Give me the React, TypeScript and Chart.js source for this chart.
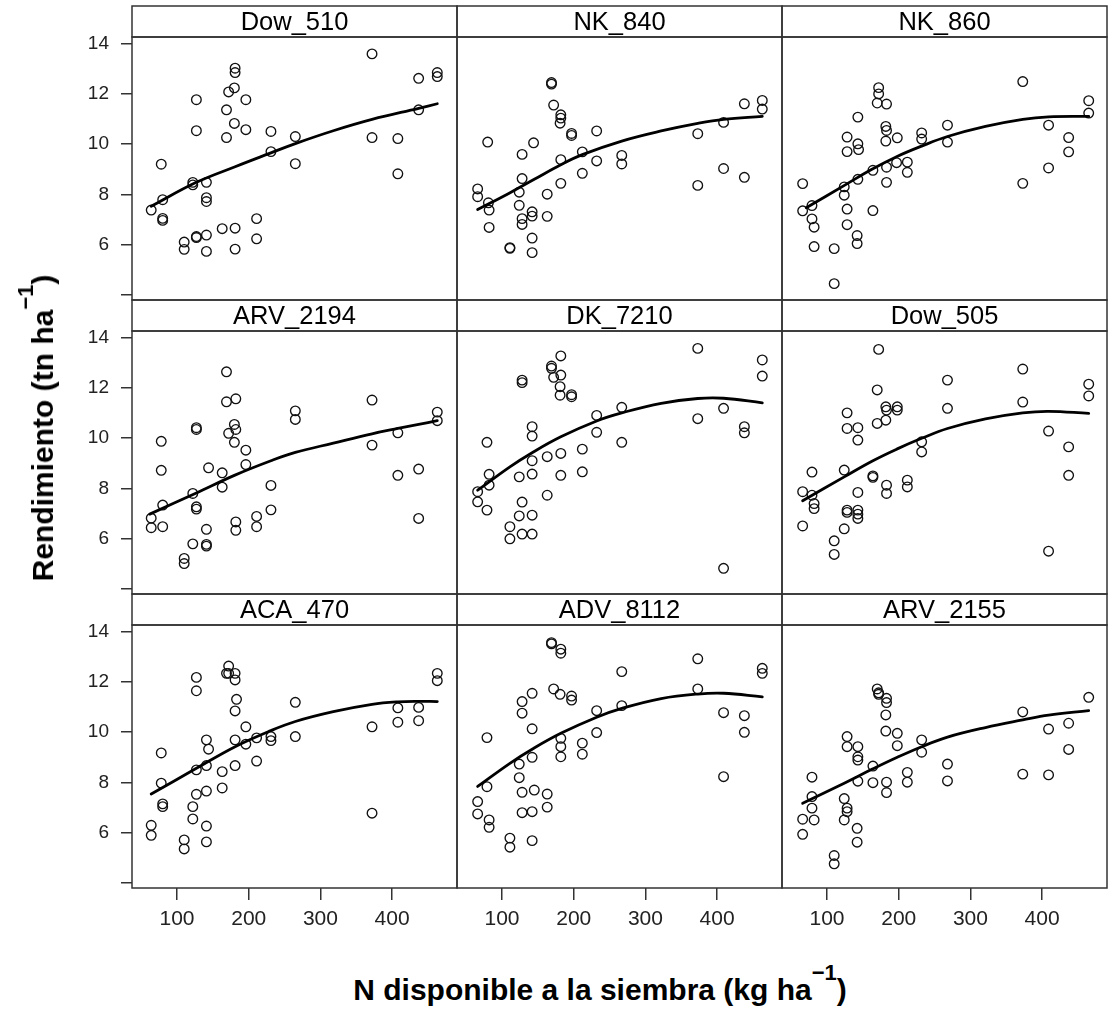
import React, { useEffect, useRef } from "react";
import { Chart, registerables } from "chart.js";

Chart.register(...registerables);

// ---------- categories / ticks ----------
const panelNames = ["Dow_510", "NK_840", "NK_860", "ARV_2194", "DK_7210", "Dow_505", "ACA_470", "ADV_8112", "ARV_2155"];
const xTickValues = [100, 200, 300, 400];
const yTickValues = [4, 6, 8, 10, 12, 14];
const yTickLabels = ["", "6", "8", "10", "12", "14"];
const xTitle = "N disponible a la siembra (kg ha";
const yTitle = "Rendimiento (tn ha";

// ---------- data (N available kg/ha, yield tn/ha) ----------
const dow510N = [64, 78, 80, 80, 80, 110, 110, 122, 122, 127, 127, 127, 127, 141, 141, 141, 141, 141, 163, 169, 169, 172, 180, 180, 181, 181, 181, 181, 196, 196, 211, 211, 231, 231, 265, 265, 372, 372, 408, 408, 437, 437, 463, 463];
const dow510Y = [7.38, 9.2, 7.79, 7.05, 6.97, 6.11, 5.82, 8.48, 8.38, 11.76, 10.53, 6.33, 6.29, 8.48, 7.87, 7.72, 6.39, 5.74, 6.64, 11.36, 10.26, 12.07, 12.23, 10.82, 13.01, 12.84, 6.66, 5.83, 11.76, 10.57, 7.04, 6.24, 10.5, 9.7, 10.3, 9.22, 13.58, 10.26, 10.22, 8.82, 12.61, 11.36, 12.84, 12.68];
const dow510FitN = [64, 127, 181, 231, 265, 318, 372, 437, 463];
const dow510FitY = [7.53, 8.48, 9.1, 9.65, 10.02, 10.53, 10.98, 11.42, 11.6];

const nk840N = [66, 66, 80, 81, 82, 82, 111, 111, 124, 124, 128, 128, 128, 128, 142, 142, 142, 142, 144, 163, 163, 169, 169, 172, 182, 182, 181, 182, 182, 197, 197, 212, 212, 232, 232, 267, 267, 373, 373, 409, 409, 438, 438, 463, 463];
const nk840Y = [8.22, 7.91, 10.08, 7.67, 7.38, 6.69, 5.89, 5.86, 8.09, 7.57, 9.59, 8.63, 7.04, 6.81, 7.31, 7.14, 6.27, 5.69, 10.05, 8.01, 7.13, 12.44, 12.38, 11.55, 11.16, 11.03, 10.83, 9.38, 8.44, 10.42, 10.34, 9.69, 8.84, 10.52, 9.33, 9.55, 9.21, 10.41, 8.36, 10.86, 9.03, 11.6, 8.68, 11.73, 11.39];
const nk840FitN = [66, 110, 145, 182, 212, 267, 322, 373, 409, 463];
const nk840FitY = [7.4, 8.05, 8.6, 9.18, 9.58, 10.12, 10.52, 10.82, 10.98, 11.1];

const nk860N = [66, 66, 79, 79, 82, 82, 110, 110, 124, 124, 128, 128, 128, 128, 143, 143, 144, 143, 142, 142, 164, 164, 172, 172, 170, 183, 182, 183, 182, 183, 183, 198, 197, 212, 212, 232, 232, 268, 268, 373, 373, 409, 409, 437, 437, 465, 465];
const nk860Y = [8.43, 7.35, 7.56, 7.03, 6.7, 5.93, 5.85, 4.46, 8.3, 7.97, 10.28, 9.7, 7.42, 6.8, 11.07, 10.01, 9.78, 8.6, 6.37, 6.05, 8.96, 7.36, 12.24, 11.99, 11.63, 11.59, 10.7, 10.54, 10.12, 9.08, 8.48, 10.25, 9.26, 9.28, 8.88, 10.44, 10.2, 10.75, 10.08, 12.48, 8.44, 10.75, 9.05, 10.26, 9.69, 11.72, 11.23];
const nk860FitN = [71, 126, 162, 197, 232, 268, 321, 373, 409, 465];
const nk860FitY = [7.47, 8.39, 8.99, 9.5, 9.92, 10.3, 10.7, 10.98, 11.08, 11.1];

const arv2194N = [64, 64, 78, 78, 80, 80, 110, 110, 122, 122, 127, 127, 127, 127, 141, 141, 141, 144, 163, 163, 169, 169, 172, 180, 182, 182, 180, 182, 182, 196, 196, 211, 211, 231, 231, 265, 265, 372, 372, 408, 408, 437, 437, 463, 463];
const arv2194Y = [6.82, 6.44, 9.87, 8.72, 7.34, 6.48, 5.22, 5.02, 7.8, 5.8, 10.41, 10.34, 7.27, 7.18, 5.78, 5.71, 6.38, 8.82, 8.62, 8.05, 12.63, 11.44, 10.19, 10.54, 10.34, 11.56, 9.83, 6.67, 6.34, 9.52, 8.95, 6.89, 6.48, 8.12, 7.15, 11.08, 10.74, 11.51, 9.72, 10.21, 8.52, 8.77, 6.81, 11.03, 10.69];
const arv2194FitN = [62, 127, 180, 231, 265, 318, 372, 408, 437, 463];
const arv2194FitY = [6.98, 7.82, 8.52, 9.1, 9.43, 9.8, 10.17, 10.38, 10.54, 10.69];

const dk7210N = [66, 66, 79, 79, 82, 82, 111, 111, 124, 124, 128, 128, 128, 128, 142, 142, 142, 142, 142, 142, 163, 163, 169, 169, 172, 182, 182, 181, 181, 182, 182, 197, 197, 212, 212, 232, 232, 267, 267, 373, 373, 409, 409, 438, 438, 463, 463];
const dk7210Y = [7.87, 7.47, 9.83, 7.14, 8.56, 8.13, 6.48, 6.0, 8.46, 6.91, 12.3, 12.2, 7.46, 6.19, 10.45, 10.08, 9.1, 8.57, 6.94, 6.19, 9.26, 7.73, 12.86, 12.77, 12.41, 13.26, 12.5, 12.04, 11.7, 9.39, 8.52, 11.72, 11.64, 9.56, 8.66, 10.9, 10.23, 11.22, 9.83, 13.56, 10.77, 11.18, 4.83, 10.45, 10.21, 13.1, 12.46];
const dk7210FitN = [66, 111, 142, 182, 232, 267, 322, 373, 409, 463];
const dk7210FitY = [7.93, 8.86, 9.42, 10.05, 10.68, 11.0, 11.38, 11.57, 11.58, 11.4];

const dow505N = [66, 66, 79, 79, 82, 82, 110, 110, 124, 124, 128, 128, 128, 128, 143, 143, 143, 143, 143, 143, 164, 164, 172, 170, 170, 182, 183, 182, 183, 183, 198, 198, 212, 212, 232, 232, 268, 268, 373, 373, 409, 409, 437, 437, 465, 465];
const dow505Y = [7.87, 6.51, 8.65, 7.73, 7.4, 7.2, 5.92, 5.38, 8.73, 6.4, 11.0, 10.38, 7.14, 7.05, 10.41, 9.92, 7.84, 7.14, 6.98, 6.81, 8.5, 8.44, 13.52, 11.91, 10.58, 11.24, 11.11, 10.71, 8.13, 7.8, 11.24, 11.11, 8.33, 8.06, 9.85, 9.45, 12.3, 11.18, 12.74, 11.43, 10.28, 5.51, 9.65, 8.52, 12.14, 11.67];
const dow505FitN = [66, 124, 164, 198, 232, 268, 321, 373, 409, 465];
const dow505FitY = [7.51, 8.46, 9.1, 9.57, 9.99, 10.38, 10.76, 11.0, 11.06, 10.98];

const aca470N = [64, 64, 78, 78, 80, 80, 110, 110, 122, 122, 127, 127, 127, 127, 141, 144, 141, 141, 141, 141, 163, 163, 172, 169, 172, 181, 181, 183, 181, 181, 181, 196, 196, 211, 211, 231, 231, 265, 265, 372, 372, 408, 408, 437, 437, 463, 463];
const aca470Y = [6.3, 5.9, 9.17, 7.97, 7.15, 7.04, 5.72, 5.36, 7.04, 6.55, 12.17, 11.64, 8.5, 7.53, 9.69, 9.32, 8.67, 7.66, 6.27, 5.64, 8.43, 7.78, 12.62, 12.33, 12.33, 12.33, 12.07, 11.3, 10.84, 9.69, 8.67, 10.21, 9.52, 9.77, 8.85, 9.82, 9.66, 11.18, 9.82, 10.21, 6.78, 10.96, 10.39, 10.98, 10.45, 12.33, 12.04];
const aca470FitN = [64, 127, 181, 231, 265, 318, 372, 408, 437, 463];
const aca470FitY = [7.54, 8.56, 9.42, 10.06, 10.42, 10.81, 11.1, 11.2, 11.22, 11.21];

const adv8112N = [66, 66, 79, 79, 82, 82, 111, 111, 124, 124, 128, 128, 128, 128, 142, 142, 142, 142, 142, 145, 163, 163, 169, 169, 172, 182, 182, 181, 182, 182, 182, 197, 197, 212, 212, 232, 232, 267, 267, 373, 373, 409, 409, 438, 438, 463, 463];
const adv8112Y = [7.24, 6.75, 9.78, 7.83, 6.51, 6.22, 5.79, 5.43, 8.73, 8.19, 11.21, 10.75, 7.61, 6.8, 11.54, 10.13, 9.0, 6.84, 5.69, 7.7, 7.54, 7.02, 13.55, 13.5, 11.71, 13.29, 13.13, 11.5, 9.75, 9.42, 9.02, 11.43, 11.27, 9.56, 9.12, 10.85, 9.98, 12.4, 11.05, 12.91, 11.71, 10.77, 8.23, 10.65, 9.99, 12.53, 12.33];
const adv8112FitN = [66, 111, 142, 182, 232, 267, 322, 373, 409, 463];
const adv8112FitY = [7.84, 8.76, 9.32, 9.95, 10.59, 10.94, 11.33, 11.51, 11.54, 11.4];

const arv2155N = [66, 66, 79, 79, 79, 82, 110, 110, 124, 124, 128, 128, 128, 128, 143, 143, 143, 143, 142, 142, 164, 164, 170, 172, 172, 183, 183, 182, 182, 183, 183, 198, 198, 212, 212, 232, 232, 268, 268, 373, 373, 409, 409, 437, 437, 465];
const arv2155Y = [6.54, 5.94, 8.21, 7.44, 6.98, 6.51, 5.1, 4.77, 7.36, 6.51, 9.82, 9.42, 6.98, 6.84, 9.42, 9.02, 8.89, 8.05, 6.18, 5.63, 8.65, 7.99, 11.71, 11.56, 11.5, 11.34, 11.17, 10.68, 10.04, 8.01, 7.6, 9.95, 9.46, 8.4, 8.01, 9.69, 9.2, 8.73, 8.06, 10.8, 8.33, 10.12, 8.3, 10.35, 9.31, 11.38];
const arv2155FitN = [66, 124, 164, 198, 232, 268, 321, 373, 409, 465];
const arv2155FitY = [7.17, 7.97, 8.54, 9.0, 9.42, 9.8, 10.18, 10.48, 10.67, 10.85];

const panelPoints = [
  [dow510N, dow510Y, dow510FitN, dow510FitY],
  [nk840N, nk840Y, nk840FitN, nk840FitY],
  [nk860N, nk860Y, nk860FitN, nk860FitY],
  [arv2194N, arv2194Y, arv2194FitN, arv2194FitY],
  [dk7210N, dk7210Y, dk7210FitN, dk7210FitY],
  [dow505N, dow505Y, dow505FitN, dow505FitY],
  [aca470N, aca470Y, aca470FitN, aca470FitY],
  [adv8112N, adv8112Y, adv8112FitN, adv8112FitY],
  [arv2155N, arv2155Y, arv2155FitN, arv2155FitY],
];

// ---------- layout ----------
const FONT = '"Liberation Sans", Arial, sans-serif';
const COL_LEFT = [132, 457, 782];
const ROW_TOP = [6, 300, 594];
const PW = 325;
const PH = 263;
const STRIP = 31;
const M = 3;
const X_MIN = 37.2;
const X_MAX = 490.5;
const Y_MIN = 3.81;
const Y_MAX = 14.25;
const LINE_COLOR = "#333";

const framePlugin = {
  id: "latticeFrame",
  afterDraw(chart: any) {
    const ctx = chart.ctx;
    const a = chart.chartArea;
    const name = chart.options.plugins.latticeFrame.name;
    ctx.save();
    ctx.strokeStyle = LINE_COLOR;
    ctx.lineWidth = 1.5;
    ctx.strokeRect(a.left, a.top - STRIP, a.right - a.left, STRIP);
    ctx.strokeRect(a.left, a.top, a.right - a.left, a.bottom - a.top);
    ctx.fillStyle = "#000";
    ctx.font = `25.5px ${FONT}`;
    ctx.textAlign = "center";
    ctx.textBaseline = "alphabetic";
    ctx.fillText(name, (a.left + a.right) / 2, a.top - 6.7);
    ctx.restore();
  },
};

function Panel({ idx }: { idx: number }) {
  const ref = useRef<HTMLCanvasElement>(null);
  const r = Math.floor(idx / 3);
  const c = idx % 3;
  const axisW = c === 0 ? 80 : 0;
  const axisH = r === 2 ? 60 : 0;
  const W = axisW + PW + 2 * M;
  const H = STRIP + PH + axisH + 2 * M;

  useEffect(() => {
    const [nx, ny, fx, fy] = panelPoints[idx];
    const chart = new Chart(ref.current as HTMLCanvasElement, {
      type: "scatter",
      data: {
        datasets: [
          {
            type: "line",
            data: fx.map((x, i) => ({ x, y: fy[i] })),
            borderColor: "#000",
            borderWidth: 2.8,
            borderCapStyle: "round",
            borderJoinStyle: "round",
            pointRadius: 0,
            tension: 0.4,
            fill: false,
          } as any,
          {
            type: "scatter",
            data: nx.map((x, i) => ({ x, y: ny[i] })),
            pointStyle: "circle",
            pointRadius: 4.8,
            pointBorderWidth: 1.35,
            borderColor: "#111",
            backgroundColor: "rgba(0,0,0,0)",
          } as any,
        ],
      },
      options: {
        animation: false,
        responsive: false,
        devicePixelRatio: 1,
        events: [],
        layout: { padding: { left: M, right: M, top: M + STRIP, bottom: M }, autoPadding: false },
        plugins: {
          legend: { display: false },
          tooltip: { enabled: false },
          latticeFrame: { name: panelNames[idx] },
        } as any,
        scales: {
          x: {
            type: "linear",
            min: X_MIN,
            max: X_MAX,
            display: r === 2,
            afterBuildTicks: (s: any) => {
              s.ticks = xTickValues.map((v) => ({ value: v }));
            },
            afterFit: (s: any) => {
              s.height = axisH;
              s.paddingLeft = 0;
              s.paddingRight = 0;
              s.paddingTop = 0;
              s.paddingBottom = 0;
            },
            grid: { drawOnChartArea: false, drawTicks: true, tickLength: 12, color: LINE_COLOR, lineWidth: 1.5 },
            border: { display: false },
            ticks: { font: { family: FONT, size: 21 }, color: "#222", padding: 7, maxRotation: 0, autoSkip: false },
          },
          y: {
            type: "linear",
            min: Y_MIN,
            max: Y_MAX,
            display: c === 0,
            afterBuildTicks: (s: any) => {
              s.ticks = yTickValues.map((v) => ({ value: v }));
            },
            afterFit: (s: any) => {
              s.width = axisW;
              s.paddingLeft = 0;
              s.paddingRight = 0;
              s.paddingTop = 0;
              s.paddingBottom = 0;
            },
            grid: { drawOnChartArea: false, drawTicks: true, tickLength: 11, color: LINE_COLOR, lineWidth: 1.5 },
            border: { display: false },
            ticks: {
              font: { family: FONT, size: 19 },
              color: "#222",
              padding: 12,
              autoSkip: false,
              callback: (v: any) => {
                const k = yTickValues.indexOf(Number(v));
                return k >= 0 ? yTickLabels[k] : "";
              },
            },
          },
        },
      },
      plugins: [framePlugin],
    });
    return () => chart.destroy();
  }, []);

  return (
    <canvas
      ref={ref}
      width={W}
      height={H}
      style={{ position: "absolute", left: COL_LEFT[c] - axisW - M, top: ROW_TOP[r] - M, width: W, height: H }}
    />
  );
}

export default function App() {
  return (
    <div
      style={{
        position: "absolute",
        left: 0,
        top: 0,
        width: 1110,
        height: 1011,
        background: "#fff",
        fontFamily: FONT,
        color: "#000",
        overflow: "hidden",
      }}
    >
      {panelNames.map((n, i) => (
        <Panel key={n} idx={i} />
      ))}
      <div
        style={{
          position: "absolute",
          left: 42.5,
          top: 428,
          transform: "translate(-50%, -50%) rotate(-90deg)",
          fontWeight: "bold",
          fontSize: 30,
          lineHeight: 1,
          whiteSpace: "nowrap",
        }}
      >
        {yTitle}
        <span style={{ fontSize: 22, position: "relative", top: -20 }}>−1</span>)
      </div>
      <div
        style={{
          position: "absolute",
          left: 600,
          top: 974.6,
          transform: "translateX(-50%)",
          fontWeight: "bold",
          fontSize: 30,
          lineHeight: 1,
          whiteSpace: "nowrap",
        }}
      >
        {xTitle}
        <span style={{ fontSize: 22, position: "relative", top: -20 }}>−1</span>)
      </div>
    </div>
  );
}
